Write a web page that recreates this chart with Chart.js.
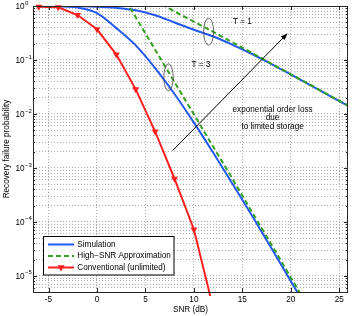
<!DOCTYPE html>
<html>
<head>
<meta charset="utf-8">
<style>
html, body { margin: 0; padding: 0; background: #fff; }
canvas { display: block; }
</style>
<script src="https://cdn.jsdelivr.net/npm/chart.js@4.4.1/dist/chart.umd.min.js"></script>
</head>
<body>
<canvas id="failureChart" width="353" height="316"></canvas>
<script>
// Recovery failure probability vs SNR
// - simulation (T = 1, T = 3), high-SNR approximation, conventional receiver
// - log y axis with MATLAB-like dotted grid, boxed axes and inward ticks

// tick labels
const snrTicks = [-5, 0, 5, 10, 15, 20, 25];
const decadeExps = [0, -1, -2, -3, -4, -5];

// simulation, T = 1
const snrSimT1 = [-6, -4, -2, 0, 2, 4, 6, 8, 10, 12, 14, 16, 18, 20, 22, 24, 26];
const simT1 = [0.998, 0.995, 0.989, 0.973, 0.923, 0.832, 0.676, 0.495, 0.363, 0.272,
    0.191, 0.129, 0.0841, 0.0537, 0.0343, 0.0216, 0.0138];

// simulation, T = 3
const snrSimT3 = [-6, -4, -2, 0, 2, 4, 6, 8, 10, 12, 14, 16, 18, 20, 22];
const simT3 = [0.998, 0.989, 0.933, 0.741, 0.389, 0.186, 0.0708, 0.0234, 6.9e-3, 1.9e-3,
    5.0e-4, 1.29e-4, 3.24e-5, 7.9e-6, 2.0e-6];

// high-SNR approximation, T = 1
const snrApproxT1 = [6, 8, 10, 12, 14, 16, 18, 20, 22, 24, 26];
const approxT1 = [1.259, 0.794, 0.513, 0.331, 0.211, 0.135, 0.0851, 0.0543, 0.0347, 0.0219, 0.014];

// high-SNR approximation, T = 3
const snrApproxT3 = [3, 4, 6, 8, 10, 12, 14, 16, 18, 20, 22];
const approxT3 = [1.23, 0.617, 0.155, 0.0389, 9.8e-3, 2.45e-3, 6.2e-4, 1.51e-4, 3.8e-5, 9.3e-6, 2.3e-6];

// conventional (unlimited storage)
const snrConv = [-6, -4, -2, 0, 2, 4, 6, 8, 10, 12];
const conv = [0.97, 0.946, 0.68, 0.37, 0.126, 0.0285, 0.0047, 6.3e-4, 7.2e-5, 2.5e-6];

const legendLabels = ['Simulation', 'High\u2212SNR Approximation', 'Conventional (unlimited)'];

const BLUE = '#2458f2';
const GREEN = '#35a120';
const RED = '#ff1f1f';
const FONT_SIZE = 8.2;
const FONT_FAMILY = '"Liberation Sans", Arial, Helvetica, sans-serif';

function pts(xs, ys) {
    return xs.map((x, i) => ({ x: x, y: ys[i] }));
}

function font(size) {
    return size + 'px ' + FONT_FAMILY;
}

function logTicks(min, max) {
    const ticks = [];
    for (let e = -6; e <= 0; e++) {
        for (let m = 1; m <= 9; m++) {
            const v = Number((m * Math.pow(10, e)).toPrecision(3));
            if (v >= min && v <= max) ticks.push({ value: v, major: m === 1 });
        }
    }
    return ticks;
}

function triangleDown(ctx, cx, cy, r) {
    ctx.beginPath();
    ctx.moveTo(cx - r, cy - r * 0.6);
    ctx.lineTo(cx + r, cy - r * 0.6);
    ctx.lineTo(cx, cy + r * 1.1);
    ctx.closePath();
    ctx.fill();
}

const framePlugin = {
    id: 'matlabFrame',
    afterDraw(chart) {
        const { ctx, chartArea: a, scales: { x, y } } = chart;
        ctx.save();

        // inward ticks
        ctx.strokeStyle = '#262626';
        ctx.lineWidth = 1;
        ctx.beginPath();
        snrTicks.forEach((v) => {
            const px = Math.round(x.getPixelForValue(v)) + 0.5;
            ctx.moveTo(px, a.bottom); ctx.lineTo(px, a.bottom - 4);
            ctx.moveTo(px, a.top); ctx.lineTo(px, a.top + 4);
        });
        y.ticks.forEach((t) => {
            const py = Math.round(y.getPixelForValue(t.value)) + 0.5;
            const len = t.major ? 4 : 2;
            ctx.moveTo(a.left, py); ctx.lineTo(a.left + len, py);
            ctx.moveTo(a.right, py); ctx.lineTo(a.right - len, py);
        });
        ctx.stroke();

        // box
        ctx.strokeRect(Math.round(a.left) + 0.5, Math.round(a.top) + 0.5,
            Math.round(a.right - a.left) - 1, Math.round(a.bottom - a.top));

        ctx.fillStyle = '#000';
        ctx.font = font(FONT_SIZE);

        // x tick labels
        ctx.textAlign = 'center';
        ctx.textBaseline = 'middle';
        snrTicks.forEach((v) => {
            ctx.fillText(String(v), x.getPixelForValue(v), a.bottom + 8);
        });

        // y tick labels 10^k
        decadeExps.forEach((e) => {
            const py = y.getPixelForValue(Math.pow(10, e));
            ctx.font = font(FONT_SIZE);
            ctx.textAlign = 'left';
            ctx.textBaseline = 'middle';
            ctx.fillText('10', 15.5, py + 0.5);
            const w = ctx.measureText('10').width;
            ctx.font = font(6);
            ctx.fillText(e === 0 ? '0' : '\u2212' + Math.abs(e), 15.5 + w + 0.3, py - 3);
        });

        // axis titles
        ctx.font = font(FONT_SIZE);
        ctx.textAlign = 'center';
        ctx.textBaseline = 'middle';
        ctx.fillText('SNR (dB)', (a.left + a.right) / 2, a.bottom + 18);
        ctx.save();
        ctx.translate(7, (a.top + a.bottom) / 2);
        ctx.rotate(-Math.PI / 2);
        ctx.fillText('Recovery failure probability', 0, 0);
        ctx.restore();

        // T labels and ellipses
        ctx.fillText('T = 1', x.getPixelForValue(15.0), y.getPixelForValue(0.51));
        ctx.fillText('T = 3', x.getPixelForValue(10.73), y.getPixelForValue(0.0805));
        ctx.strokeStyle = '#444';
        ctx.lineWidth = 0.8;
        ctx.beginPath();
        ctx.ellipse(x.getPixelForValue(11.52), y.getPixelForValue(0.334), 5, 13.5, 0, 0, Math.PI * 2);
        ctx.stroke();
        ctx.beginPath();
        ctx.ellipse(x.getPixelForValue(7.38), y.getPixelForValue(0.0477), 4.7, 13.5, 0, 0, Math.PI * 2);
        ctx.stroke();

        // arrow
        const x0 = x.getPixelForValue(7.8), y0 = y.getPixelForValue(2.08e-3);
        const x1 = x.getPixelForValue(19.67), y1 = y.getPixelForValue(0.312);
        const ang = Math.atan2(y1 - y0, x1 - x0);
        ctx.strokeStyle = '#000';
        ctx.lineWidth = 1;
        ctx.beginPath();
        ctx.moveTo(x0, y0);
        ctx.lineTo(x1 - 5 * Math.cos(ang), y1 - 5 * Math.sin(ang));
        ctx.stroke();
        ctx.fillStyle = '#000';
        ctx.beginPath();
        ctx.moveTo(x1, y1);
        ctx.lineTo(x1 - 7 * Math.cos(ang) + 2.6 * Math.sin(ang), y1 - 7 * Math.sin(ang) - 2.6 * Math.cos(ang));
        ctx.lineTo(x1 - 7 * Math.cos(ang) - 2.6 * Math.sin(ang), y1 - 7 * Math.sin(ang) + 2.6 * Math.cos(ang));
        ctx.closePath();
        ctx.fill();

        // annotation text
        const tx = x.getPixelForValue(18.12);
        const ty = y.getPixelForValue(0.01217);
        ctx.fillText('exponential order loss', tx, ty);
        ctx.fillText('due', tx, ty + 8.5);
        ctx.fillText('to limited storage', tx, ty + 17.5);

        // legend
        const lx = 43.5, ly = 236.5, lw = 130.5, lh = 38.5;
        ctx.fillStyle = '#fff';
        ctx.fillRect(lx, ly, lw, lh);
        ctx.strokeStyle = '#000';
        ctx.lineWidth = 1;
        ctx.strokeRect(lx, ly, lw, lh);
        const rows = [ly + 8, ly + 19.5, ly + 31];
        const styles = [
            { color: BLUE, dash: [] },
            { color: GREEN, dash: [5, 3] },
            { color: RED, dash: [] }
        ];
        rows.forEach((ry, i) => {
            ctx.strokeStyle = styles[i].color;
            ctx.lineWidth = 2;
            ctx.setLineDash(styles[i].dash);
            ctx.beginPath();
            ctx.moveTo(48, ry); ctx.lineTo(74, ry);
            ctx.stroke();
            ctx.setLineDash([]);
            if (i === 2) {
                ctx.fillStyle = RED;
                triangleDown(ctx, 61, ry, 3.6);
            }
            ctx.fillStyle = '#000';
            ctx.textAlign = 'left';
            ctx.fillText(legendLabels[i], 77.3, ry);
        });

        ctx.restore();
    }
};

const lineBase = { borderWidth: 2, pointRadius: 0, fill: false, clip: 0 };

new Chart(document.getElementById('failureChart'), {
    type: 'line',
    data: {
        datasets: [
            Object.assign({}, lineBase, {
                data: pts(snrConv, conv),
                borderColor: RED,
                backgroundColor: RED,
                pointRadius: 4,
                pointStyle: 'triangle',
                rotation: 180,
                pointBorderWidth: 0,
                pointBackgroundColor: RED,
                tension: 0,
                clip: 4
            }),
            Object.assign({}, lineBase, {
                data: pts(snrApproxT1, approxT1),
                borderColor: GREEN,
                borderDash: [5, 3]
            }),
            Object.assign({}, lineBase, {
                data: pts(snrApproxT3, approxT3),
                borderColor: GREEN,
                borderDash: [5, 3]
            }),
            Object.assign({}, lineBase, {
                data: pts(snrSimT1, simT1),
                borderColor: BLUE,
                cubicInterpolationMode: 'monotone'
            }),
            Object.assign({}, lineBase, {
                data: pts(snrSimT3, simT3),
                borderColor: BLUE,
                cubicInterpolationMode: 'monotone'
            })
        ]
    },
    options: {
        responsive: false,
        animation: false,
        devicePixelRatio: 1,
        layout: { padding: { left: 33, right: 5, top: 6, bottom: 24 } },
        plugins: {
            legend: { display: false },
            tooltip: { enabled: false }
        },
        scales: {
            x: {
                type: 'linear',
                min: -6.6,
                max: 25.9,
                afterBuildTicks: (axis) => {
                    axis.ticks = snrTicks.map((v) => ({ value: v }));
                },
                ticks: { display: false },
                grid: { color: '#b0b0b0', lineWidth: 1, drawTicks: false },
                border: { display: false, dash: [1, 2] }
            },
            y: {
                type: 'logarithmic',
                min: 5e-6,
                max: 1,
                afterBuildTicks: (axis) => {
                    axis.ticks = logTicks(5e-6, 1);
                },
                ticks: { display: false },
                grid: { color: '#b0b0b0', lineWidth: 1, drawTicks: false },
                border: { display: false, dash: [1, 2] }
            }
        }
    },
    plugins: [framePlugin]
});
</script>
</body>
</html>
